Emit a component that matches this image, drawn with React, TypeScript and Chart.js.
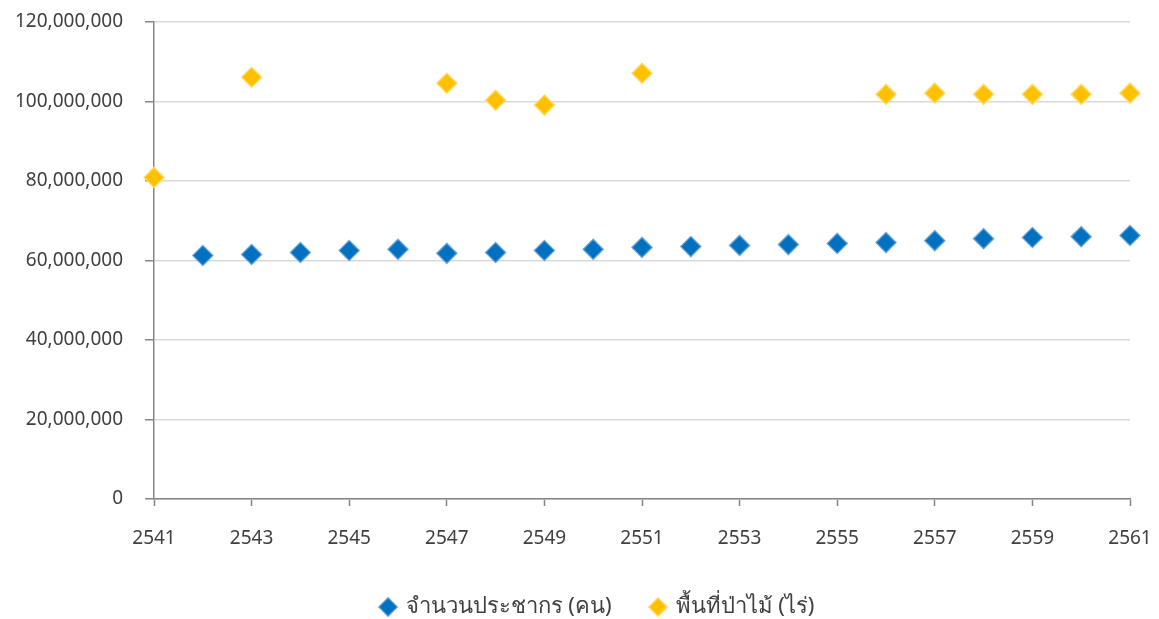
import React, { useEffect, useRef } from "react";
import { Chart, registerables } from "chart.js";

Chart.register(...registerables);

const years = [2541, 2542, 2543, 2544, 2545, 2546, 2547, 2548, 2549, 2550, 2551, 2552, 2553, 2554, 2555, 2556, 2557, 2558, 2559, 2560, 2561];
const population: (number | null)[] = [null, 61.25e6, 61.5e6, 62.0e6, 62.5e6, 62.8e6, 61.8e6, 62.0e6, 62.5e6, 62.8e6, 63.3e6, 63.5e6, 63.8e6, 64.0e6, 64.3e6, 64.5e6, 65.0e6, 65.5e6, 65.8e6, 66.0e6, 66.3e6];
const forest: (number | null)[] = [80.9e6, null, 106.1e6, null, null, null, 104.6e6, 100.3e6, 99.1e6, null, 107.1e6, null, null, null, null, 101.8e6, 102.1e6, 101.8e6, 101.8e6, 101.8e6, 102.1e6];
const seriesNames = ["จำนวนประชากร (คน)", "พื้นที่ป่าไม้ (ไร่)"];

const toPoints = (vals: (number | null)[]) =>
  years.map((x, i) => ({ x, y: vals[i] })).filter((p) => p.y !== null) as { x: number; y: number }[];

const FONT = "'Noto Sans', 'Leelawadee UI', Tahoma, sans-serif";

const legendShift = {
  id: "legendShift",
  afterLayout(chart: any) {
    const lg = chart.legend;
    if (lg) {
      lg.left += 33;
      lg.right += 33;
    }
  },
};

export default function App() {
  const ref = useRef<HTMLCanvasElement | null>(null);
  useEffect(() => {
    if (!ref.current) return;
    const chart = new Chart(ref.current, {
      type: "scatter",
      data: {
        datasets: [
          {
            label: seriesNames[0],
            data: toPoints(population),
            pointStyle: "rectRot",
            pointRadius: 10,
            pointHoverRadius: 10,
            backgroundColor: "#0070C0",
            borderColor: "rgba(91,155,213,0.8)",
            borderWidth: 1.5,
            clip: false,
          },
          {
            label: seriesNames[1],
            data: toPoints(forest),
            pointStyle: "rectRot",
            pointRadius: 10,
            pointHoverRadius: 10,
            backgroundColor: "#FFC000",
            borderColor: "rgba(255,217,102,0.9)",
            borderWidth: 1.5,
            clip: false,
          },
        ],
      },
      plugins: [legendShift],
      options: {
        animation: false,
        responsive: true,
        maintainAspectRatio: false,
        layout: { padding: { top: 22, right: 29, left: 0, bottom: -9 } },
        plugins: {
          tooltip: { enabled: false },
          legend: {
            position: "bottom",
            labels: {
              usePointStyle: true,
              pointStyle: "rectRot",
              boxWidth: 13,
              boxHeight: 13,
              padding: 40,
              color: "#404040",
              font: { family: FONT, size: 22 },
            },
          },
        },
        scales: {
          x: {
            type: "linear",
            min: 2541,
            max: 2561,
            afterFit: (s: any) => {
              s.height = 57;
              s.paddingLeft = 0;
              s.paddingRight = 0;
            },
            ticks: {
              stepSize: 2,
              autoSkip: false,
              maxRotation: 0,
              padding: 21,
              color: "#404040",
              font: { family: FONT, size: 19 },
              callback: (v: any) => String(v),
            },
            grid: { drawOnChartArea: false, tickLength: 7, tickColor: "#868686", tickWidth: 1.5 },
            border: { color: "#868686", width: 1.5 },
          },
          y: {
            min: 0,
            max: 120000000,
            afterFit: (s: any) => {
              s.width = 154;
              s.paddingTop = 0;
              s.paddingBottom = 0;
            },
            ticks: {
              stepSize: 20000000,
              padding: 22,
              color: "#404040",
              font: { family: FONT, size: 19 },
              callback: (v: any) => Number(v).toLocaleString("en-US"),
            },
            grid: { color: "#D9D9D9", lineWidth: 1.5, tickLength: 9, tickColor: "#868686", tickWidth: 1.5 },
            border: { color: "#868686", width: 1.5 },
          },
        },
      },
    });
    return () => chart.destroy();
  }, []);
  return (
    <div style={{ position: "fixed", left: 0, top: 0, width: 1159, height: 619, background: "#fff" }}>
      <canvas ref={ref} />
    </div>
  );
}
